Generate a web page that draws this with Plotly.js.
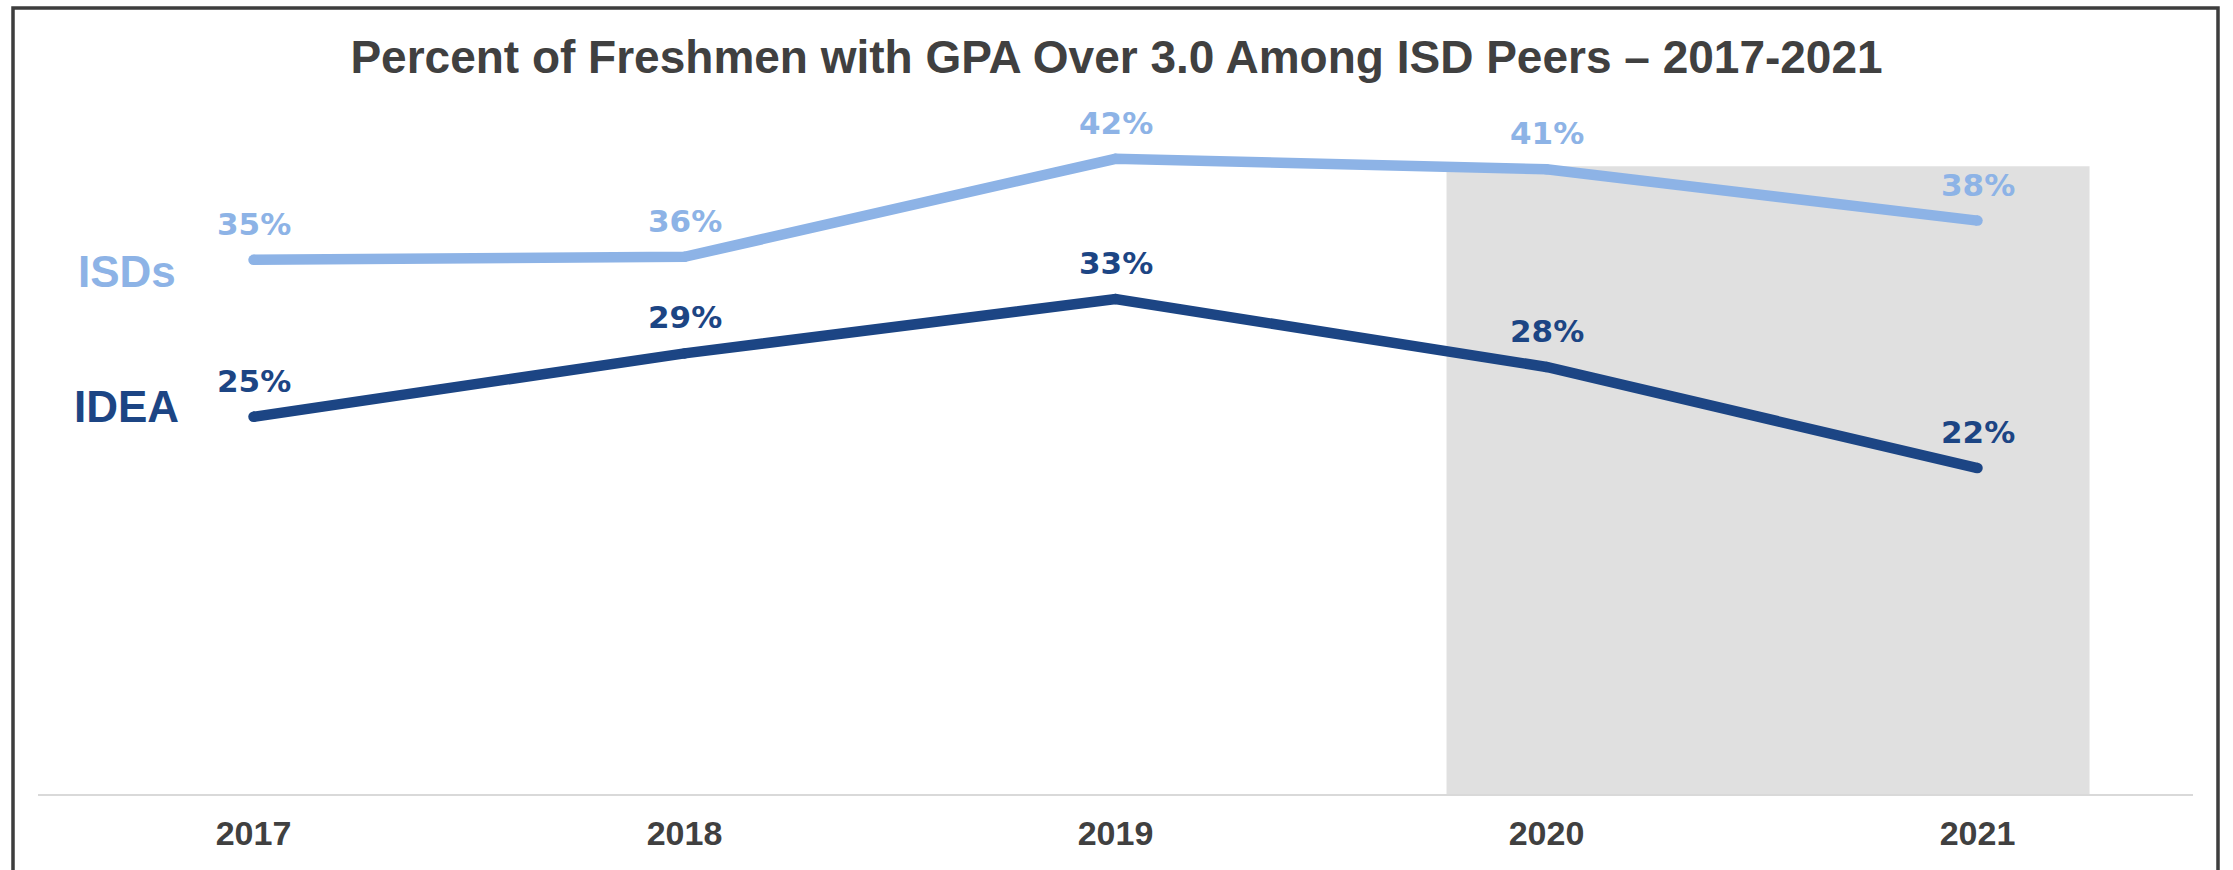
<!DOCTYPE html>
<html>
<head>
<meta charset="utf-8">
<script src="https://cdn.plot.ly/plotly-3.0.1.min.js"></script>
<style>html,body{margin:0;padding:0;background:#fff;overflow:hidden;}#chart{width:2233px;height:870px;}</style>
</head>
<body>
<div id="chart"></div>
<script>
// ---- data ----
var years = ['2017', '2018', '2019', '2020', '2021'];
var isdValues = [35.4, 35.6, 42.1, 41.4, 38.0];
var ideaValues = [25.0, 29.2, 32.8, 28.3, 21.6];
var seriesNames = ['ISDs', 'IDEA'];
var titleText = 'Percent of Freshmen with GPA Over 3.0 Among ISD Peers \u2013 2017-2021';

// ---- styles ----
var isdColor = '#8DB3E6';
var ideaColor = '#1C4584';
var textGray = '#404040';

function lineTrace(vals, color, name) {
  return {
    x: years, y: vals, type: 'scatter', mode: 'lines+markers', name: name,
    line: {color: color, width: 10.5},
    marker: {color: color, size: 10.5},
    hoverinfo: 'skip', showlegend: false
  };
}

var data = [lineTrace(isdValues, isdColor, seriesNames[0]), lineTrace(ideaValues, ideaColor, seriesNames[1])];

var annotations = [];
function addLabels(vals, color) {
  for (var i = 0; i < vals.length; i++) {
    // category axis: annotation x given as the category index
    annotations.push({
      x: years.indexOf(years[i]), y: vals[i], xref: 'x', yref: 'y',
      text: Math.round(vals[i]) + '%', showarrow: false,
      xanchor: 'center', yanchor: 'bottom', yshift: 16,
      font: {family: 'DejaVu Sans', size: 31, color: color, weight: 'bold'}
    });
  }
}
addLabels(isdValues, isdColor);
addLabels(ideaValues, ideaColor);

annotations.push({
  x: 0.0411, y: 0.770, xref: 'paper', yref: 'paper', text: seriesNames[0], showarrow: false,
  xanchor: 'center', yanchor: 'middle',
  font: {family: 'Liberation Sans, Arial, sans-serif', size: 44, color: isdColor, weight: 'bold'}
});
annotations.push({
  x: 0.0411, y: 0.571, xref: 'paper', yref: 'paper', text: seriesNames[1], showarrow: false,
  xanchor: 'center', yanchor: 'middle',
  font: {family: 'Liberation Sans, Arial, sans-serif', size: 44, color: ideaColor, weight: 'bold'}
});

var layout = {
  width: 2233, height: 870,
  margin: {l: 38, r: 40, t: 115, b: 76, pad: 0},
  paper_bgcolor: '#ffffff', plot_bgcolor: 'rgba(0,0,0,0)',
  title: {
    text: titleText, x: 0.5, xref: 'container', y: 0.935, yref: 'container', yanchor: 'middle',
    font: {family: 'Liberation Sans, Arial, sans-serif', size: 46, color: textGray, weight: 'bold'}
  },
  xaxis: {
    type: 'category', range: [-0.5, 4.5], fixedrange: true,
    showgrid: false, zeroline: false,
    showline: true, linecolor: '#d9d9d9', linewidth: 2,
    ticks: 'outside', ticklen: 8, tickcolor: 'rgba(0,0,0,0)',
    tickfont: {family: 'Liberation Sans, Arial, sans-serif', size: 34, color: textGray, weight: 'bold'}
  },
  yaxis: {
    range: [0, 45], fixedrange: true,
    showgrid: false, zeroline: false, showline: false, showticklabels: false, ticks: ''
  },
  shapes: [
    {type: 'rect', xref: 'x', yref: 'y', x0: 2.768, x1: 4.26, y0: 0, y1: 41.6,
     fillcolor: '#E0E0E0', line: {width: 0}, layer: 'below'},
    {type: 'rect', xref: 'paper', yref: 'paper', x0: -0.0116, x1: 1.0116, y0: -0.1267, y1: 1.1576,
     fillcolor: 'rgba(0,0,0,0)', line: {color: '#3d3d3d', width: 3.5}, layer: 'above'}
  ],
  annotations: annotations
};

Plotly.newPlot('chart', data, layout, {displayModeBar: false, staticPlot: true});
</script>
</body>
</html>
